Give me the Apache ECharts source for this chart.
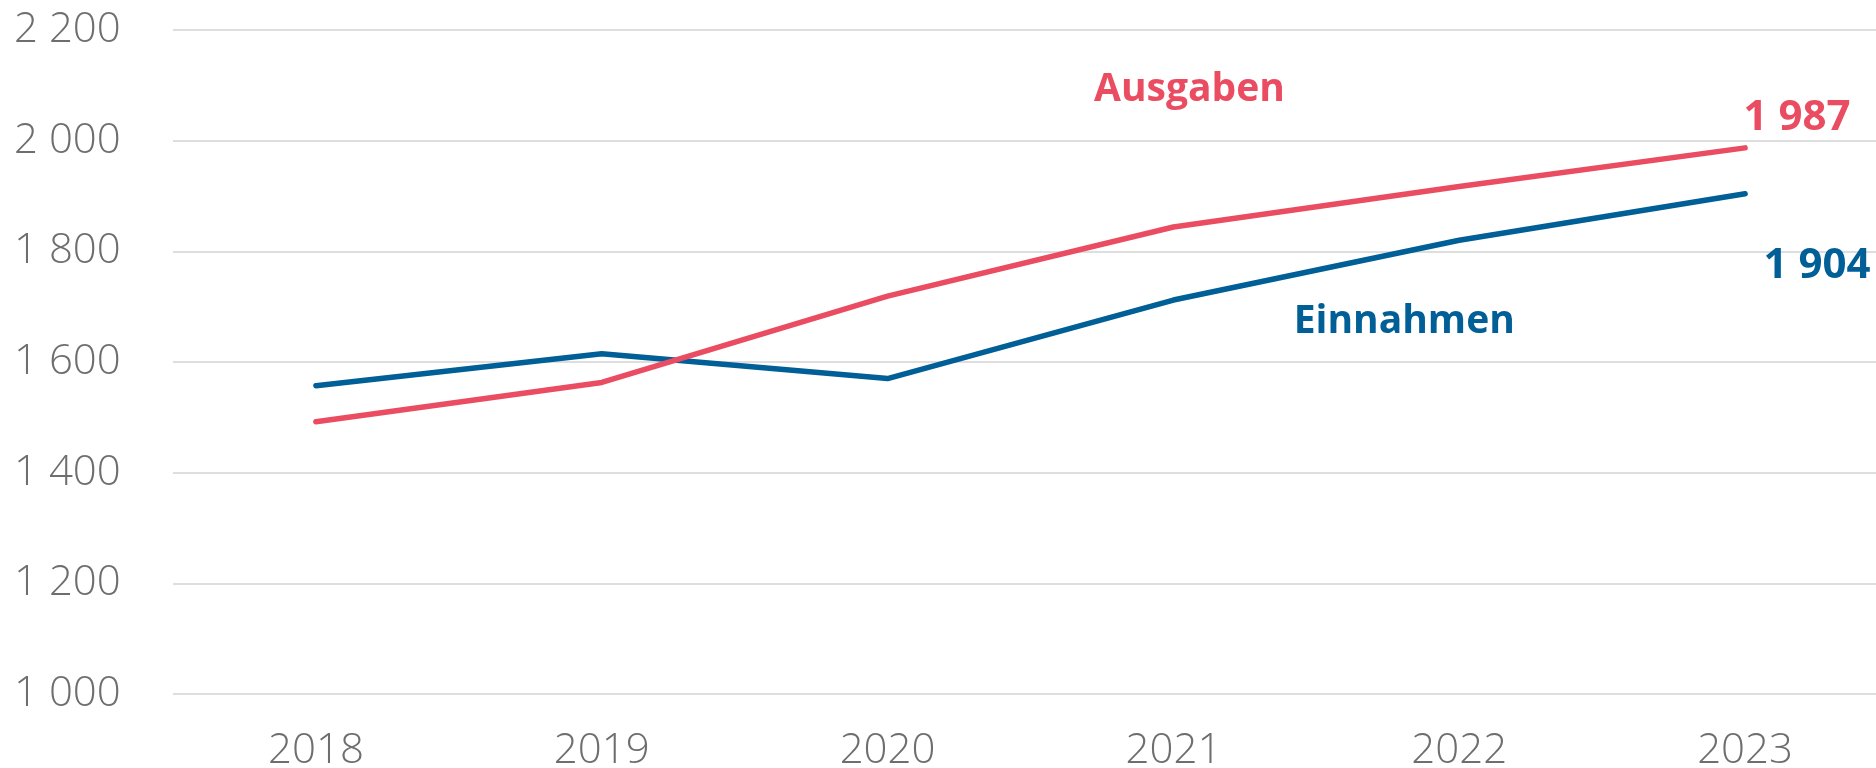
<!DOCTYPE html>
<html>
<head>
<meta charset="utf-8">
<title>Einnahmen und Ausgaben</title>
<script src="https://cdn.jsdelivr.net/npm/echarts@6/dist/echarts.min.js"></script>
<style>
  html, body { margin: 0; padding: 0; background: #fff; }
  #chart { width: 1876px; height: 768px; }
</style>
</head>
<body>
<div id="chart"></div>
<script>
// data
var years = ["2018", "2019", "2020", "2021", "2022", "2023"];
var einnahmen = [1557, 1615, 1570, 1712, 1820, 1904];
var ausgaben = [1492, 1563, 1719, 1844, 1917, 1987];
var yTicks = [1000, 1200, 1400, 1600, 1800, 2000, 2200];

var RED = "#ea4d62";
var BLUE = "#005f96";
var GREY = "#6e6e6e";
var labelFont = "'Open Sans', 'Noto Sans', sans-serif";
var axisFont = "'Open Sans', 'Noto Sans', sans-serif";

function fmt(v) {
  return String(v).replace(/\B(?=(\d{3})+(?!\d))/g, " ");
}

function boldLabel(color, offset, text, size) {
  return {
    show: true,
    position: "top",
    offset: offset,
    color: color,
    fontSize: size || 42,
    fontWeight: "bold",
    fontFamily: labelFont,
    formatter: text
  };
}

// only the last point gets its value written next to it
function withEndLabel(values, color, offset) {
  return values.map(function (v, i) {
    if (i !== values.length - 1) return v;
    return { value: v, label: boldLabel(color, offset, fmt(v)) };
  });
}

var chart = echarts.init(document.getElementById("chart"));

chart.setOption({
  backgroundColor: "#fff",
  animation: false,
  // the plot runs past the right edge; stop v6 from squeezing it back in
  grid: {
    left: 173,
    width: 1715,
    top: 30,
    bottom: 74,
    containLabel: false,
    outerBoundsMode: "none"
  },
  xAxis: {
    type: "category",
    data: years,
    boundaryGap: true,
    axisLine: { show: false },
    axisTick: { show: false },
    axisLabel: {
      color: GREY,
      fontSize: 42,
      fontWeight: 300,
      fontFamily: axisFont,
      margin: 36
    }
  },
  yAxis: {
    type: "value",
    min: yTicks[0],
    max: yTicks[yTicks.length - 1],
    interval: 200,
    axisLine: { show: false },
    axisTick: { show: false },
    splitLine: { lineStyle: { color: "#dedede", width: 2 } },
    axisLabel: {
      color: GREY,
      fontSize: 42,
      fontWeight: 300,
      fontFamily: axisFont,
      align: "left",
      margin: 159,
      formatter: fmt
    }
  },
  series: [
    {
      name: "Einnahmen",
      type: "line",
      data: withEndLabel(einnahmen, BLUE, [72, 98]),
      symbol: "circle",
      symbolSize: 0,
      showAllSymbol: true,
      lineStyle: { color: BLUE, width: 5.5, cap: "round" },
      itemStyle: { color: BLUE },
      markPoint: {
        symbol: "circle",
        symbolSize: 0,
        data: [{
          coord: ["2022", 1674],
          label: boldLabel(BLUE, [-55, 25], "Einnahmen", 39)
        }]
      }
    },
    {
      name: "Ausgaben",
      type: "line",
      data: withEndLabel(ausgaben, RED, [52, -4]),
      symbol: "circle",
      symbolSize: 0,
      showAllSymbol: true,
      lineStyle: { color: RED, width: 5.5, cap: "round" },
      itemStyle: { color: RED },
      markPoint: {
        symbol: "circle",
        symbolSize: 0,
        data: [{
          coord: ["2021", 2090],
          label: boldLabel(RED, [16, 24], "Ausgaben", 39)
        }]
      }
    }
  ]
});
</script>
</body>
</html>
